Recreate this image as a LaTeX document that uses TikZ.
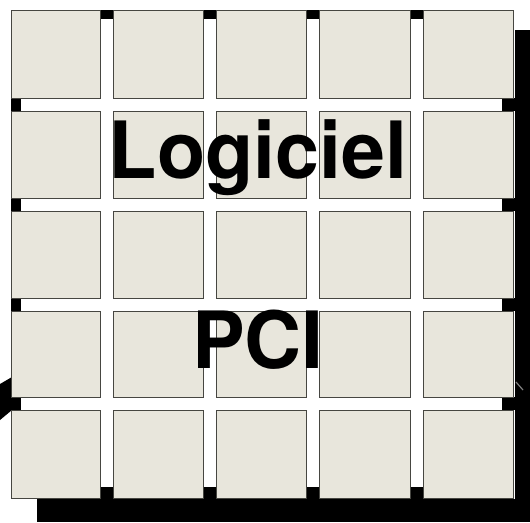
\documentclass[tikz,border=0pt]{standalone}
\usepackage{fontspec}
\setmainfont{TeX Gyre Heros}
\definecolor{tilefill}{RGB}{232,230,220}
\definecolor{tileedge}{RGB}{70,70,65}
\begin{document}
\begin{tikzpicture}[x=1pt,y=-1pt,
  tile/.style={fill=tilefill,draw=tileedge,line width=0.9pt},
  gapend/.style={fill=black},
  bigtext/.style={font=\bfseries\fontsize{79}{79}\selectfont,text=black,inner sep=0pt,anchor=base}]
\useasboundingbox (0,0) rectangle (530,522);
\fill[white] (0,0) rectangle (530,522);
% shadow
\fill[black] (37,30) rectangle (530,522);
\fill[white] (11,10) rectangle (515,499);
% left wedge and right streak
\fill[black] (0,384) -- (12,377) -- (12,410) -- (0,420) -- cycle;
\draw[gray,line width=1.2pt] (516,382) -- (523,390);
% black gap ends
\foreach \x in {100,203,306,410} {
  \fill[black] (\x,10) rectangle ++(13,9);
  \fill[black] (\x,487) rectangle ++(13,12);
}
\foreach \y in {98,198,298,397} {
  \fill[black] (11,\y) rectangle ++(10,13);
  \fill[black] (502,\y) rectangle ++(13,13);
}
% tiles
\foreach \c/\xa/\xb in {1/11/100,2/113/203,3/216/306,4/319/410,5/423/513} {
  \foreach \r/\ya/\yb in {1/10/98,2/111/198,3/211/298,4/311/397,5/410/498} {
    \draw[tile] (\xa,\ya) rectangle (\xb,\yb);
  }
}
\node[bigtext] (logiciel) at (258,178) {Logiciel};
\node[bigtext] (pci) at (258,368) {PCI};
\end{tikzpicture}
\end{document}
